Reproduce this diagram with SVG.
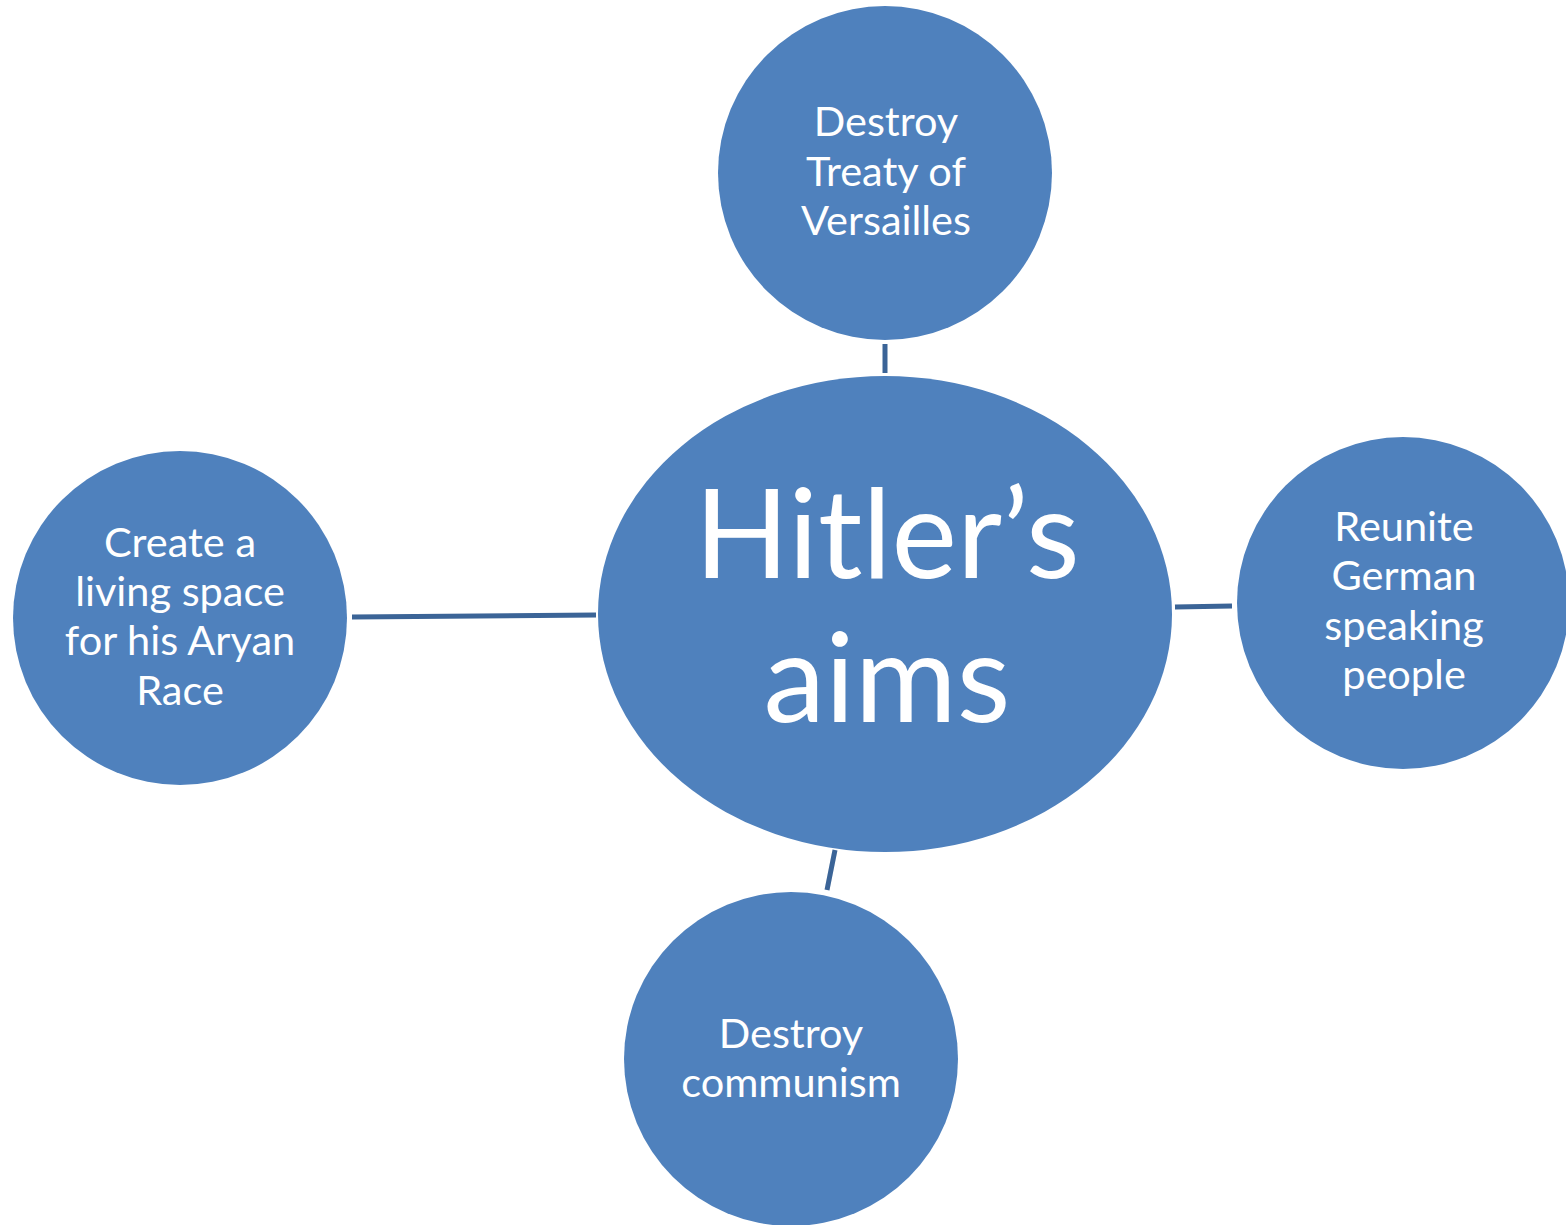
<svg xmlns="http://www.w3.org/2000/svg" width="1566" height="1225" viewBox="0 0 1566 1225">
<style>
.n{fill:#4F81BD}
.t{fill:#fff;font-family:Lato,"Open Sans",sans-serif;font-size:41.5px;text-anchor:middle}
.b{fill:#fff;font-family:Lato,"Open Sans",sans-serif;font-size:124px;text-anchor:middle}
.c{stroke:#3B6497;stroke-width:5;fill:none}
</style>
<rect width="1566" height="1225" fill="#fff"/>
<g id="connectors">
<line class="c" x1="885" y1="344" x2="885" y2="373"/>
<line class="c" x1="1175" y1="607" x2="1232" y2="606"/>
<line class="c" x1="835" y1="850" x2="827" y2="890"/>
<line class="c" x1="352" y1="617" x2="596" y2="615"/>
</g>
<g id="center">
<ellipse class="n" cx="885" cy="614" rx="287" ry="238"/>
<text class="b" x="887" y="578">Hitler’s</text>
<text class="b" x="887" y="722">aims</text>
</g>
<g id="top">
<circle class="n" cx="885" cy="173" r="167"/>
<text class="t" x="886" y="136">Destroy</text>
<text class="t" x="886" y="186">Treaty of</text>
<text class="t" x="886" y="235">Versailles</text>
</g>
<g id="right">
<circle class="n" cx="1403" cy="603" r="166"/>
<text class="t" x="1404" y="541">Reunite</text>
<text class="t" x="1404" y="590">German</text>
<text class="t" x="1404" y="640">speaking</text>
<text class="t" x="1404" y="689">people</text>
</g>
<g id="left">
<circle class="n" cx="180" cy="618" r="167"/>
<text class="t" x="180" y="557">Create a</text>
<text class="t" x="180" y="606">living space</text>
<text class="t" x="180" y="655">for his Aryan</text>
<text class="t" x="180" y="705">Race</text>
</g>
<g id="bottom">
<circle class="n" cx="791" cy="1059" r="167"/>
<text class="t" x="791" y="1048">Destroy</text>
<text class="t" x="791" y="1097">communism</text>
</g>
</svg>
